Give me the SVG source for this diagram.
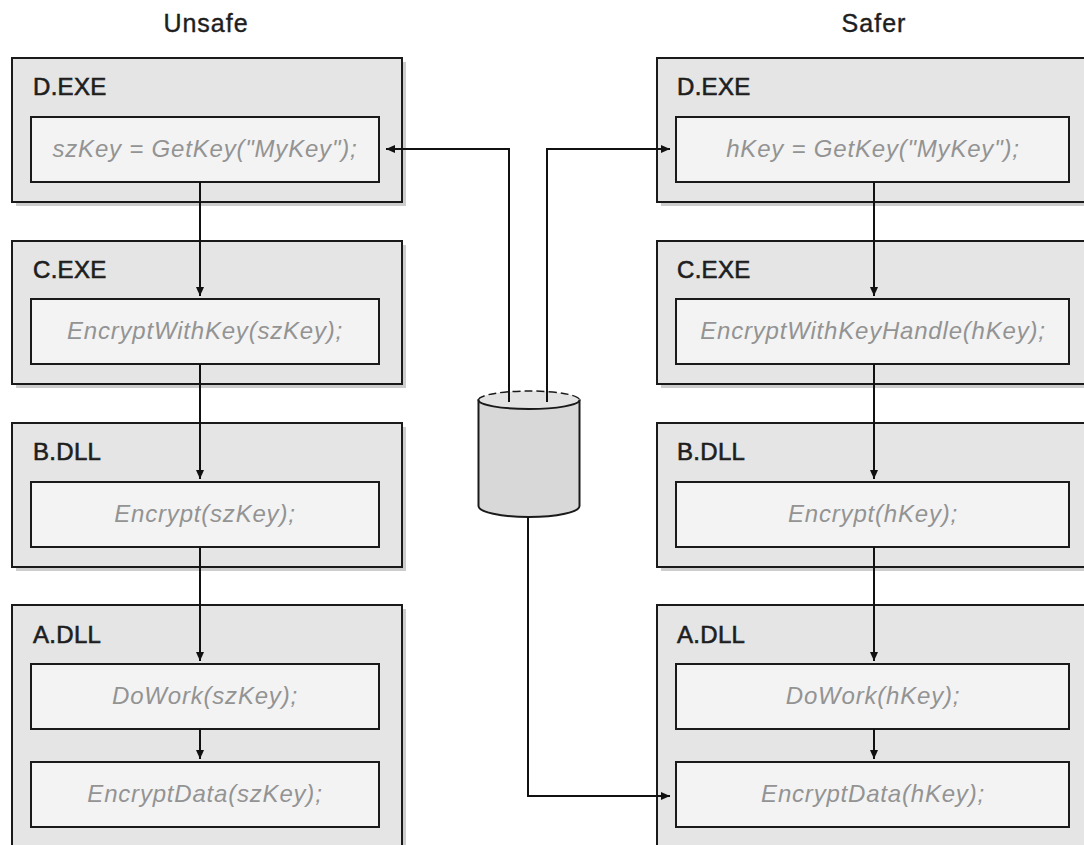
<svg xmlns="http://www.w3.org/2000/svg" width="1084" height="845" viewBox="0 0 1084 845">
<style>
.shadow{fill:#cdcdcd;}
.outer{fill:#e5e5e5;stroke:#1a1a1a;stroke-width:2;}
.inner{fill:#f3f3f3;stroke:#1a1a1a;stroke-width:2;}
.label{font-family:"Liberation Sans",Arial,sans-serif;font-size:24px;fill:#1e1e1e;stroke:#1e1e1e;stroke-width:0.6px;letter-spacing:0.3px;}
.code{font-family:"Liberation Sans",Arial,sans-serif;font-size:24px;font-style:italic;fill:#939393;letter-spacing:0.8px;text-anchor:middle;}
.title{font-family:"Liberation Sans",Arial,sans-serif;font-size:25px;fill:#1e1e1e;stroke:#1e1e1e;stroke-width:0.4px;letter-spacing:1px;text-anchor:middle;}
.conn{fill:none;stroke:#111;stroke-width:2;}
</style>
<defs>
<marker id="arr" markerUnits="userSpaceOnUse" markerWidth="10" markerHeight="9" refX="9" refY="4" orient="auto">
<path d="M0,0 L9,4 L0,8 z" fill="#111"/>
</marker>
</defs>
<rect width="1084" height="845" fill="#ffffff"/>

<text class="title" x="206" y="32">Unsafe</text>
<text class="title" x="874" y="32">Safer</text>

<!-- Left column -->
<g id="left-d">
<rect class="shadow" x="16" y="62" width="390" height="144"/>
<rect class="outer" x="12" y="58" width="390" height="144"/>
<text class="label" x="33" y="95">D.EXE</text>
<rect class="inner" x="31" y="117" width="348" height="65"/>
<text class="code" x="205" y="157">szKey = GetKey("MyKey");</text>
</g>
<g id="left-c">
<rect class="shadow" x="16" y="245" width="390" height="143"/>
<rect class="outer" x="12" y="241" width="390" height="143"/>
<text class="label" x="33" y="278">C.EXE</text>
<rect class="inner" x="31" y="299" width="348" height="65"/>
<text class="code" x="205" y="339">EncryptWithKey(szKey);</text>
</g>
<g id="left-b">
<rect class="shadow" x="16" y="427" width="390" height="144"/>
<rect class="outer" x="12" y="423" width="390" height="144"/>
<text class="label" x="33" y="460">B.DLL</text>
<rect class="inner" x="31" y="482" width="348" height="65"/>
<text class="code" x="205" y="522">Encrypt(szKey);</text>
</g>
<g id="left-a">
<rect class="shadow" x="16" y="609" width="390" height="260"/>
<rect class="outer" x="12" y="605" width="390" height="260"/>
<text class="label" x="33" y="643">A.DLL</text>
<rect class="inner" x="31" y="664" width="348" height="65"/>
<text class="code" x="205" y="704">DoWork(szKey);</text>
<rect class="inner" x="31" y="762" width="348" height="65"/>
<text class="code" x="205" y="802">EncryptData(szKey);</text>
</g>

<!-- Right column -->
<g id="right-d">
<rect class="shadow" x="661" y="62" width="440" height="144"/>
<rect class="outer" x="657" y="58" width="440" height="144"/>
<text class="label" x="677" y="95">D.EXE</text>
<rect class="inner" x="676" y="117" width="393" height="65"/>
<text class="code" x="873" y="157">hKey = GetKey("MyKey");</text>
</g>
<g id="right-c">
<rect class="shadow" x="661" y="245" width="440" height="143"/>
<rect class="outer" x="657" y="241" width="440" height="143"/>
<text class="label" x="677" y="278">C.EXE</text>
<rect class="inner" x="676" y="299" width="393" height="65"/>
<text class="code" x="873" y="339">EncryptWithKeyHandle(hKey);</text>
</g>
<g id="right-b">
<rect class="shadow" x="661" y="427" width="440" height="144"/>
<rect class="outer" x="657" y="423" width="440" height="144"/>
<text class="label" x="677" y="460">B.DLL</text>
<rect class="inner" x="676" y="482" width="393" height="65"/>
<text class="code" x="873" y="522">Encrypt(hKey);</text>
</g>
<g id="right-a">
<rect class="shadow" x="661" y="609" width="440" height="260"/>
<rect class="outer" x="657" y="605" width="440" height="260"/>
<text class="label" x="677" y="643">A.DLL</text>
<rect class="inner" x="676" y="664" width="393" height="65"/>
<text class="code" x="873" y="704">DoWork(hKey);</text>
<rect class="inner" x="676" y="762" width="393" height="65"/>
<text class="code" x="873" y="802">EncryptData(hKey);</text>
</g>

<!-- Key store cylinder -->
<g id="keystore">
<path d="M478.5,400 V506 A50.5,11 0 0 0 579.5,506 V400 Z" fill="#d8d8d8" stroke="#1a1a1a" stroke-width="2"/>
<ellipse cx="529" cy="400" rx="50.5" ry="9" fill="#e3e3e3" stroke="none"/>
<path d="M478.5,400 A50.5,9 0 0 1 579.5,400" fill="none" stroke="#1a1a1a" stroke-width="1.5" stroke-dasharray="8 4"/>
<path d="M478.5,400 A50.5,9 0 0 0 579.5,400" fill="none" stroke="#1a1a1a" stroke-width="2"/>
</g>

<g id="connectors">
<path class="conn" d="M200,182 V296" marker-end="url(#arr)"/>
<path class="conn" d="M200,364 V479" marker-end="url(#arr)"/>
<path class="conn" d="M200,547 V661" marker-end="url(#arr)"/>
<path class="conn" d="M200,729 V759" marker-end="url(#arr)"/>
<path class="conn" d="M874,182 V296" marker-end="url(#arr)"/>
<path class="conn" d="M874,364 V479" marker-end="url(#arr)"/>
<path class="conn" d="M874,547 V661" marker-end="url(#arr)"/>
<path class="conn" d="M874,729 V759" marker-end="url(#arr)"/>
<path class="conn" d="M509,402 V149 H386" marker-end="url(#arr)"/>
<path class="conn" d="M547,402 V149 H670" marker-end="url(#arr)"/>
<path class="conn" d="M528,517 V796 H670" marker-end="url(#arr)"/>
</g>
</svg>
